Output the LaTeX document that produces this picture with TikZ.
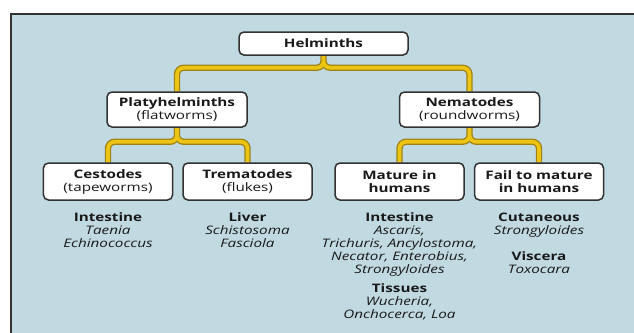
\documentclass[tikz,border=0pt]{standalone}
\usepackage{fontspec}
\setmainfont[FakeStretch=1.3]{Open Sans}
\usetikzlibrary{positioning, backgrounds}
\definecolor{colPanel}{RGB}{193, 217, 225}
\definecolor{colLink}{RGB}{236, 196, 20}
\definecolor{colLinkEdge}{RGB}{160, 130, 20}
\definecolor{colFrame}{RGB}{50, 50, 50}

\begin{document}
\begin{tikzpicture}[x=0.3mm, y=-0.3mm,
    every node/.style={font=\fontsize{10}{11.1}\selectfont, text=black!90},
    box/.style={draw=colFrame, line width=0.45mm, fill=white, rounded corners=1.5mm, align=center, inner sep=0pt},
    topbox/.style={box, minimum width=50.7mm, minimum height=6.9mm},
    midbox/.style={box, minimum width=42mm, minimum height=10.5mm},
    leafbox/.style={box, minimum width=38.7mm, minimum height=11.1mm},
    info/.style={align=center, inner sep=0pt},
    link/.style={preaction={draw=colLinkEdge, line width=1.9mm}, draw=colLink, line width=1.1mm, rounded corners=2mm}
]
    \useasboundingbox (0,0) rectangle (634,333);

    % Boxes
    \node[topbox] (helm) at (323.5,43.5) {\textbf{Helminths}};
    \node[midbox] (platy) at (177,109.5) {\textbf{Platyhelminths}\\(flatworms)};
    \node[midbox] (nema) at (469.5,109.5) {\textbf{Nematodes}\\(roundworms)};
    \node[leafbox] (ces) at (108,181.5) {\textbf{Cestodes}\\(tapeworms)};
    \node[leafbox] (trem) at (247.5,181.5) {\textbf{Trematodes}\\(flukes)};
    \node[leafbox] (mat) at (399.5,181.5) {\textbf{Mature in}\\\textbf{humans}};
    \node[leafbox] (fail) at (539,181.5) {\textbf{Fail to mature}\\\textbf{in humans}};

    % Sites and genera
    \node[info, below=3.5mm of ces] (cesinfo) {\textbf{Intestine}\\\textit{Taenia}\\\textit{Echinococcus}};
    \node[info, below=3.5mm of trem] (treminfo) {\textbf{Liver}\\\textit{Schistosoma}\\\textit{Fasciola}};
    \node[info, below=3.5mm of mat] (matinfo) {\textbf{Intestine}\\\textit{Ascaris,}\\\textit{Trichuris, Ancylostoma,}\\\textit{Necator, Enterobius,}\\\textit{Strongyloides}\\[1.8mm]
        \textbf{Tissues}\\\textit{Wucheria,}\\\textit{Onchocerca, Loa}};
    \node[info, below=3.5mm of fail] (failinfo) {\textbf{Cutaneous}\\\textit{Strongyloides}\\[3.9mm]\textbf{Viscera}\\\textit{Toxocara}};

    \begin{scope}[on background layer]
        % Panel
        \fill[colPanel] (10,13) rectangle (634,333);
        \draw[colFrame, line width=0.6mm] (10.5,333) -- (10.5,13.5) -- (634,13.5);
        % Connectors
        \draw[link] (helm.south) -- ++(0,12) -| (platy.north)
                    (helm.south) -- ++(0,12) -| (nema.north);
        \draw[link] (platy.south) -- ++(0,14) -| (ces.north)
                    (platy.south) -- ++(0,14) -| (trem.north);
        \draw[link] (nema.south) -- ++(0,14) -| (mat.north)
                    (nema.south) -- ++(0,14) -| (fail.north);
    \end{scope}
\end{tikzpicture}
\end{document}
